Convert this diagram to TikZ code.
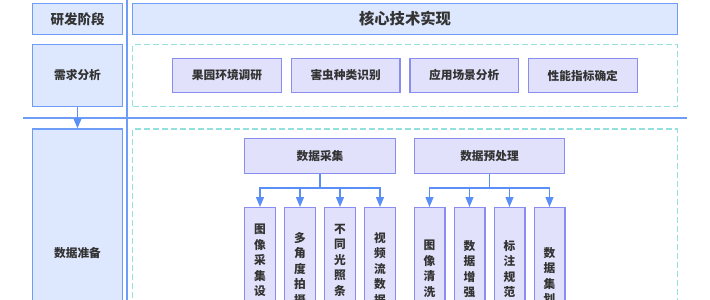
\documentclass[tikz,border=0pt]{standalone}
\usepackage{fontspec}
\usepackage{xcolor}
\usepackage{tikz}
\usetikzlibrary{arrows.meta, positioning, calc}
\setmainfont{Noto Sans CJK SC}

\definecolor{phasefill}{HTML}{DDE7FD}
\definecolor{phaseline}{HTML}{6E9DF8}
\definecolor{taskfill}{HTML}{E1E1FB}
\definecolor{taskline}{HTML}{8A8DF0}
\definecolor{zoneline}{HTML}{93E0DE}
\definecolor{flowblue}{HTML}{5A8FF7}
\definecolor{textgray}{HTML}{333333}

\begin{document}
\begin{tikzpicture}[
        x=1pt, y=-1pt,
        phase/.style={draw=phaseline, fill=phasefill, line width=1.3pt, minimum width=89.7pt, inner sep=0pt, text=textgray, font=\bfseries\fontsize{11.7}{14}\selectfont},
        zone/.style={draw=zoneline, line width=1.3pt, dash pattern=on 6pt off 3pt, minimum width=544.7pt, inner sep=0pt},
        task/.style={draw=taskline, fill=taskfill, line width=1.3pt, minimum width=108.7pt, minimum height=33.7pt, inner sep=0pt, text=textgray, font=\bfseries\fontsize{11.7}{14}\selectfont},
        leaf/.style={draw=taskline, fill=taskfill, line width=1.3pt, minimum width=30.7pt, minimum height=166pt, inner sep=0pt},
        vtext/.style={anchor=north, align=center, inner sep=0pt, text=textgray, font=\bfseries\fontsize{11.7}{15.5}\selectfont},
        rule/.style={draw=phaseline, line width=1.3pt},
        link/.style={draw=flowblue, line width=1.3pt},
        flow/.style={link, -{Triangle[width=8pt, length=10pt]}}
    ]
        \clip (0,0) rectangle (710,300);

        % separators
        \draw[rule] (127,0) -- (127,400);
        \draw[rule] (23,118) -- (687,118);

        % header row
        \node[phase, minimum height=30.7pt, font=\bfseries\fontsize{13.5}{16}\selectfont] (stage) at (77.5,19) {研发阶段};
        \node[phase, minimum width=544.7pt, minimum height=30.7pt, font=\bfseries\fontsize{15.3}{18}\selectfont] (core) at (405,19) {核心技术实现};

        % requirements
        \node[phase, minimum height=61.7pt] (req) at (77.5,75.5) {需求分析};
        \node[zone, minimum height=61.7pt] (reqzone) at (405,75.5) {};
        \node[task] (orchard) at (227,75.5) {果园环境调研};
        \node[task, right=8.6pt of orchard] (pest) {害虫种类识别};
        \node[task, right=8.6pt of pest] (scene) {应用场景分析};
        \node[task, right=8.6pt of scene] (metric) {性能指标确定};

        % data preparation
        \node[phase, minimum height=248pt] (prep) at (77.5,253) {数据准备};
        \node[zone, minimum height=251pt] (prepzone) at (405,254.5) {};
        \draw[flow] (req) -- (prep);

        \node[task, minimum width=150.7pt, minimum height=34.7pt] (collect) at (320,156) {数据采集};
        \node[task, minimum width=149.7pt, minimum height=34.7pt] (clean) at (489.5,156) {数据预处理};

        \node[leaf, anchor=north] (c1) at (260,207) {};
        \node[leaf, right=8pt of c1] (c2) {};
        \node[leaf, right=8pt of c2] (c3) {};
        \node[leaf, right=8pt of c3] (c4) {};
        \node[leaf, anchor=north] (p1) at (429.5,207) {};
        \node[leaf, right=8pt of p1] (p2) {};
        \node[leaf, right=8pt of p2] (p3) {};
        \node[leaf, right=8pt of p3] (p4) {};

        \node[vtext] (c1t) at ($(c1.north)+(0,17)$) {图\\像\\采\\集\\设};
        \node[vtext] (c2t) at ($(c2.north)+(0,25)$) {多\\角\\度\\拍\\摄};
        \node[vtext] (c3t) at ($(c3.north)+(0,17)$) {不\\同\\光\\照\\条};
        \node[vtext] (c4t) at ($(c4.north)+(0,25)$) {视\\频\\流\\数\\据};
        \node[vtext] (p1t) at ($(p1.north)+(0,33)$) {图\\像\\清\\洗};
        \node[vtext] (p2t) at ($(p2.north)+(0,33)$) {数\\据\\增\\强};
        \node[vtext] (p3t) at ($(p3.north)+(0,33)$) {标\\注\\规\\范};
        \node[vtext] (p4t) at ($(p4.north)+(0,40)$) {数\\据\\集\\划};

        % branches
        \coordinate (cj) at ($(collect.south)+(0,14)$);
        \coordinate (pj) at ($(clean.south)+(0,14)$);
        \draw[link] (collect) -- (cj);
        \draw[link] (clean) -- (pj);
        \foreach \n in {c1,c2,c3,c4}
            \draw[flow] (cj) -| (\n.north);
        \foreach \n in {p1,p2,p3,p4}
            \draw[flow] (pj) -| (\n.north);
    \end{tikzpicture}
\end{document}
